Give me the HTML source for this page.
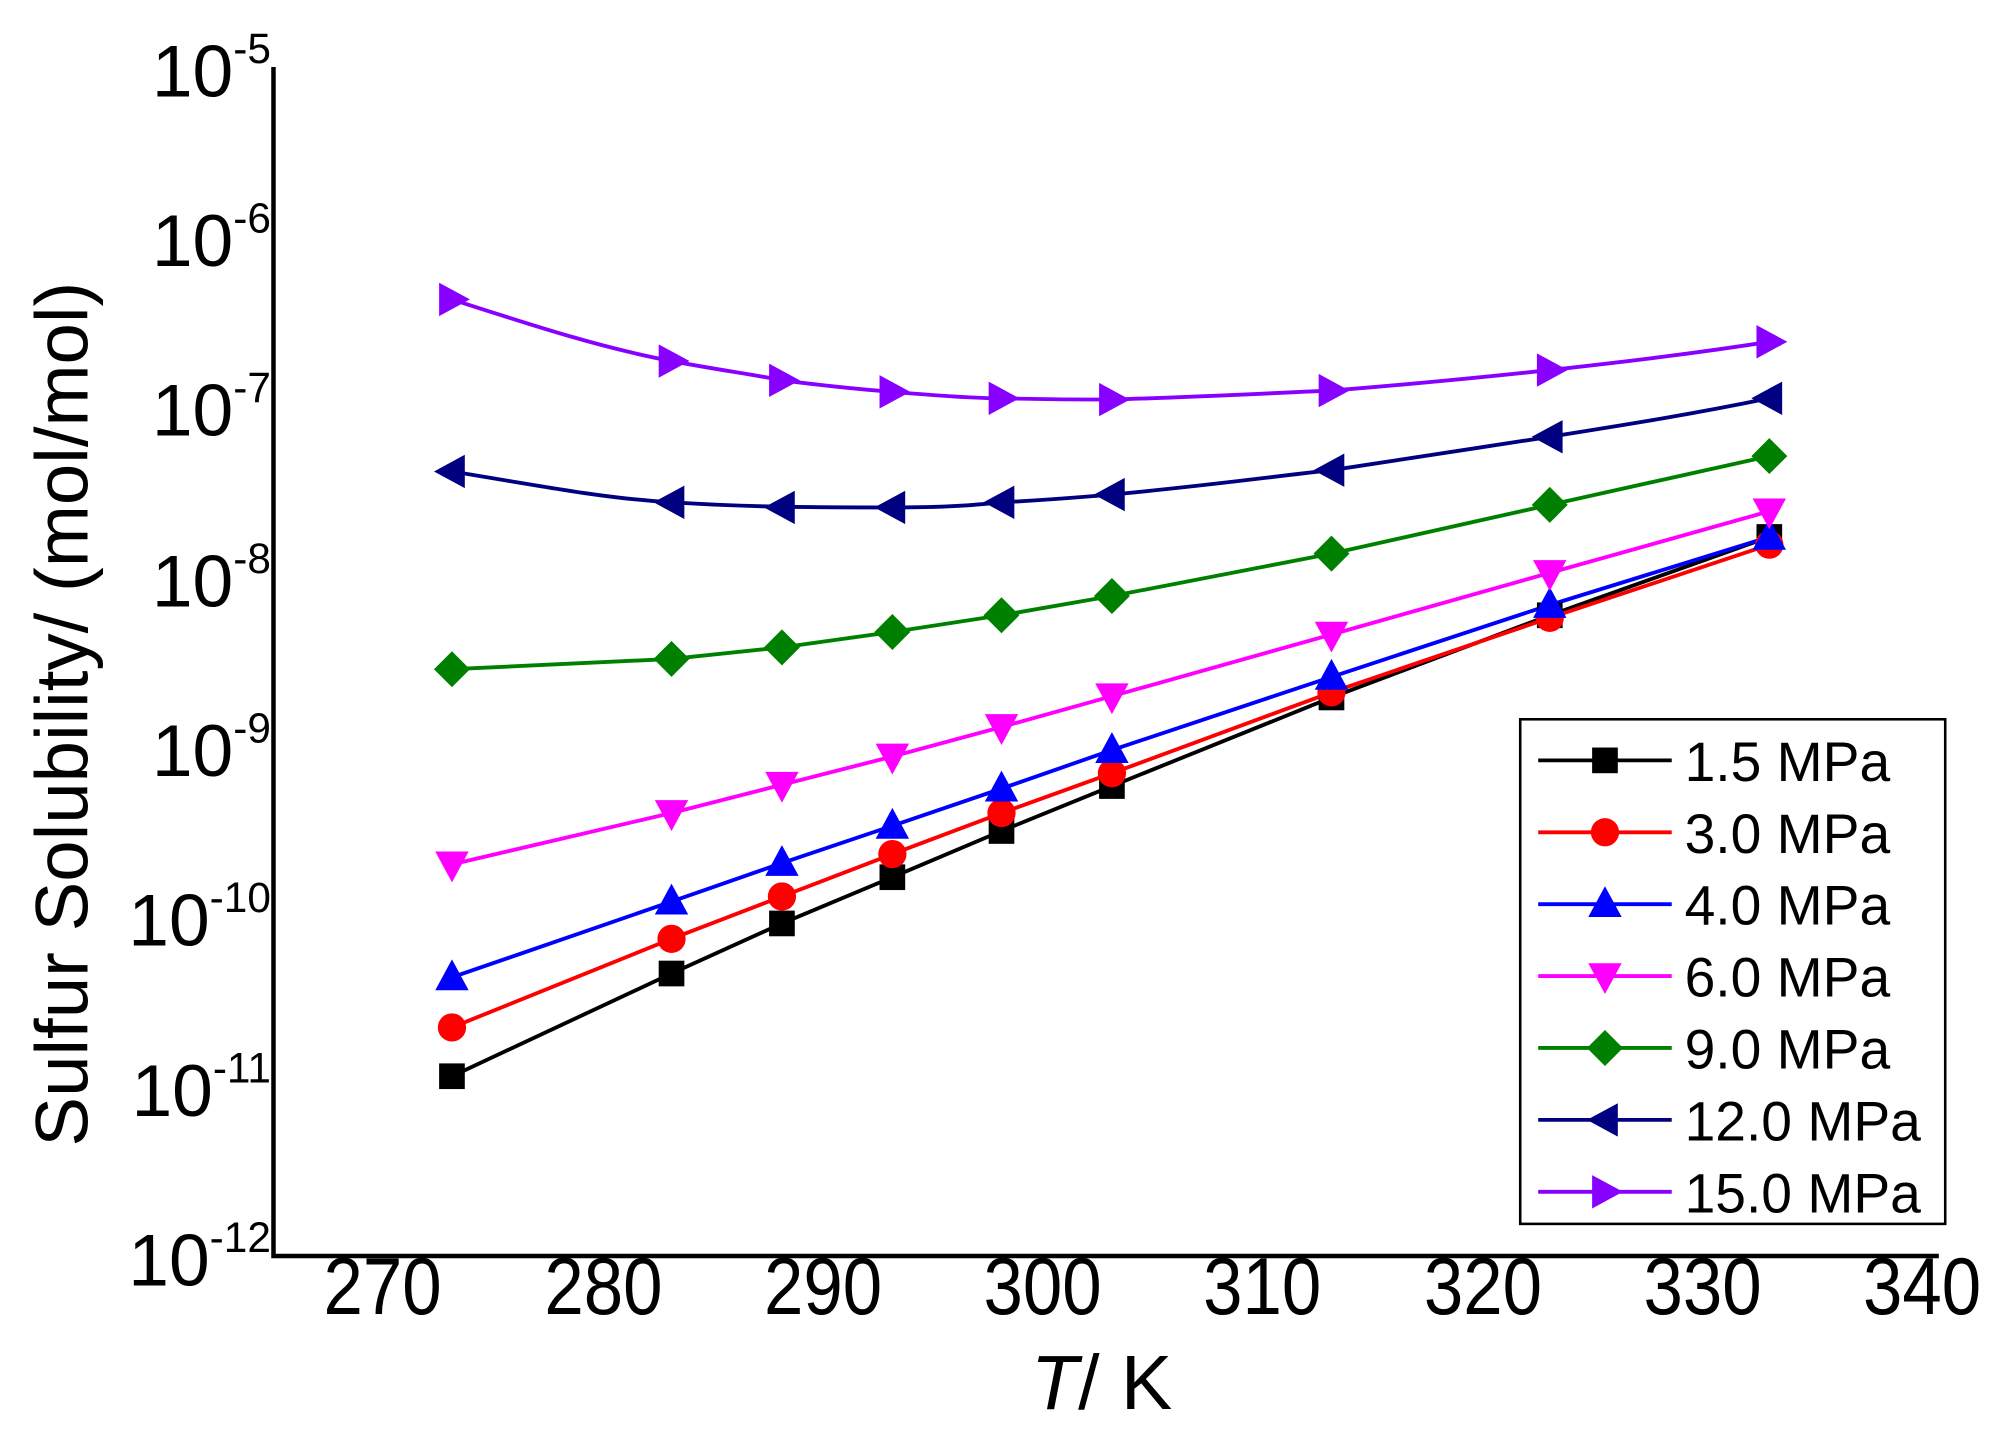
<!DOCTYPE html>
<html><head><meta charset="utf-8"><style>html,body{margin:0;padding:0;background:#fff}svg{display:block}</style></head>
<body>
<svg width="2003" height="1436" viewBox="0 0 1560 1118" xmlns="http://www.w3.org/2000/svg" font-family="Liberation Sans, Arial, sans-serif">
<rect width="1560" height="1118" fill="#fff"/>
<polyline points="213,52 213,978 1510,978" fill="none" stroke="#000" stroke-width="3.5"/>
<g font-size="57" text-anchor="end">
<text x="211" y="75">10<tspan font-size="33" dy="-26">-5</tspan></text>
<text x="211" y="207">10<tspan font-size="33" dy="-26">-6</tspan></text>
<text x="211" y="339">10<tspan font-size="33" dy="-26">-7</tspan></text>
<text x="211" y="472">10<tspan font-size="33" dy="-26">-8</tspan></text>
<text x="211" y="604">10<tspan font-size="33" dy="-26">-9</tspan></text>
<text x="211" y="736">10<tspan font-size="33" dy="-26">-10</tspan></text>
<text x="211" y="869">10<tspan font-size="33" dy="-26">-11</tspan></text>
<text x="211" y="1001">10<tspan font-size="33" dy="-26">-12</tspan></text>
</g>
<g font-size="63">
<text x="252" y="1023" textLength="92" lengthAdjust="spacingAndGlyphs">270</text>
<text x="424" y="1023" textLength="92" lengthAdjust="spacingAndGlyphs">280</text>
<text x="595" y="1023" textLength="92" lengthAdjust="spacingAndGlyphs">290</text>
<text x="766" y="1023" textLength="92" lengthAdjust="spacingAndGlyphs">300</text>
<text x="937" y="1023" textLength="92" lengthAdjust="spacingAndGlyphs">310</text>
<text x="1109" y="1023" textLength="92" lengthAdjust="spacingAndGlyphs">320</text>
<text x="1280" y="1023" textLength="92" lengthAdjust="spacingAndGlyphs">330</text>
<text x="1451" y="1023" textLength="92" lengthAdjust="spacingAndGlyphs">340</text>
</g>
<text x="858" y="1097" font-size="60" text-anchor="middle"><tspan font-style="italic">T</tspan>/ K</text>
<text transform="translate(68,556) rotate(-90)" font-size="58" text-anchor="middle">Sulfur Solubility/ (mol/mol)</text>

<defs>
<rect id="sq" x="-10" y="-10" width="20" height="20"/>
<circle id="ci" r="11"/>
<polygon id="tu" points="0,-14 13,10 -13,10"/>
<polygon id="td" points="0,14 13,-10 -13,-10"/>
<polygon id="di" points="0,-14 14,0 0,14 -14,0"/>
<polygon id="tl" points="-14,0 10,-13 10,13"/>
<polygon id="tr" points="14,0 -10,-13 -10,13"/>
</defs>

<g fill="none" stroke-width="3" stroke-linejoin="round">
<polyline stroke="#000" points="352,838 523,758 609,719 695,683 780,647 866,612 1037,543 1207,479 1378,418"/>
<polyline stroke="#f00" points="352,800 523,731 609,698 695,665 780,633 866,602 1037,539 1207,481 1378,424"/>
<polyline stroke="#00f" points="352,761 523,702 609,672 695,643 780,614 866,584 1037,527 1207,471 1378,418"/>
<polyline stroke="#f0f" points="352,673 523,633 609,611 695,589 780,566 866,542 1037,494 1207,446 1378,398"/>
<polyline stroke="#008000" points="352,521 523,513 609,504 695,492 780,479 866,464 1037,431 1207,393 1378,355"/>
<path stroke="#000080" d="M352,367 C420,378 470,388 523,391 C570,394 609,395 695,395 C740,395 760,393 780,391 C820,389 840,387 866,385 C950,377 990,371 1037,366 C1100,356 1150,349 1207,340 C1270,330 1320,322 1378,310"/>
<path stroke="#8800ff" d="M352,233 C420,255 470,271 523,281 C560,288 590,292 609,296 C640,300 670,303 695,305 C730,308 760,310 780,310 C820,311 850,311 866,311 C930,309 990,306 1037,304 C1100,299 1160,293 1207,288 C1270,281 1320,275 1378,266"/>
</g>
<g fill="#000"><use href="#sq" x="352" y="838"/><use href="#sq" x="523" y="758"/><use href="#sq" x="609" y="719"/><use href="#sq" x="695" y="683"/><use href="#sq" x="780" y="647"/><use href="#sq" x="866" y="612"/><use href="#sq" x="1037" y="543"/><use href="#sq" x="1207" y="479"/><use href="#sq" x="1378" y="418"/></g>
<g fill="#f00"><use href="#ci" x="352" y="800"/><use href="#ci" x="523" y="731"/><use href="#ci" x="609" y="698"/><use href="#ci" x="695" y="665"/><use href="#ci" x="780" y="633"/><use href="#ci" x="866" y="602"/><use href="#ci" x="1037" y="539"/><use href="#ci" x="1207" y="481"/><use href="#ci" x="1378" y="424"/></g>
<g fill="#00f"><use href="#tu" x="352" y="761"/><use href="#tu" x="523" y="702"/><use href="#tu" x="609" y="672"/><use href="#tu" x="695" y="643"/><use href="#tu" x="780" y="614"/><use href="#tu" x="866" y="584"/><use href="#tu" x="1037" y="527"/><use href="#tu" x="1207" y="471"/><use href="#tu" x="1378" y="418"/></g>
<g fill="#f0f"><use href="#td" x="352" y="673"/><use href="#td" x="523" y="633"/><use href="#td" x="609" y="611"/><use href="#td" x="695" y="589"/><use href="#td" x="780" y="566"/><use href="#td" x="866" y="542"/><use href="#td" x="1037" y="494"/><use href="#td" x="1207" y="446"/><use href="#td" x="1378" y="398"/></g>
<g fill="#008000"><use href="#di" x="352" y="521"/><use href="#di" x="523" y="513"/><use href="#di" x="609" y="504"/><use href="#di" x="695" y="492"/><use href="#di" x="780" y="479"/><use href="#di" x="866" y="464"/><use href="#di" x="1037" y="431"/><use href="#di" x="1207" y="393"/><use href="#di" x="1378" y="355"/></g>
<g fill="#000080"><use href="#tl" x="352" y="367"/><use href="#tl" x="523" y="391"/><use href="#tl" x="609" y="395"/><use href="#tl" x="695" y="395"/><use href="#tl" x="780" y="391"/><use href="#tl" x="866" y="385"/><use href="#tl" x="1037" y="366"/><use href="#tl" x="1207" y="340"/><use href="#tl" x="1378" y="310"/></g>
<g fill="#8800ff"><use href="#tr" x="352" y="233"/><use href="#tr" x="523" y="281"/><use href="#tr" x="609" y="296"/><use href="#tr" x="695" y="305"/><use href="#tr" x="780" y="310"/><use href="#tr" x="866" y="311"/><use href="#tr" x="1037" y="304"/><use href="#tr" x="1207" y="288"/><use href="#tr" x="1378" y="266"/></g>

<rect x="1184" y="560" width="331" height="393" fill="#fff" stroke="#000" stroke-width="2"/>
<g stroke-width="3">
<line x1="1198" y1="592" x2="1302" y2="592" stroke="#000"/>
<line x1="1198" y1="648" x2="1302" y2="648" stroke="#f00"/>
<line x1="1198" y1="704" x2="1302" y2="704" stroke="#00f"/>
<line x1="1198" y1="760" x2="1302" y2="760" stroke="#f0f"/>
<line x1="1198" y1="816" x2="1302" y2="816" stroke="#008000"/>
<line x1="1198" y1="872" x2="1302" y2="872" stroke="#000080"/>
<line x1="1198" y1="928" x2="1302" y2="928" stroke="#8800ff"/>
</g>
<use href="#sq" x="1250" y="592" fill="#000"/>
<use href="#ci" x="1250" y="648" fill="#f00"/>
<use href="#tu" x="1250" y="704" fill="#00f"/>
<use href="#td" x="1250" y="760" fill="#f0f"/>
<use href="#di" x="1250" y="816" fill="#008000"/>
<use href="#tl" x="1250" y="872" fill="#000080"/>
<use href="#tr" x="1250" y="928" fill="#8800ff"/>
<g font-size="43">
<text x="1312" y="608">1.5 MPa</text><text x="1312" y="664">3.0 MPa</text><text x="1312" y="720">4.0 MPa</text>
<text x="1312" y="776">6.0 MPa</text><text x="1312" y="832">9.0 MPa</text><text x="1312" y="888">12.0 MPa</text><text x="1312" y="944">15.0 MPa</text>
</g>
</svg>
</body></html>
